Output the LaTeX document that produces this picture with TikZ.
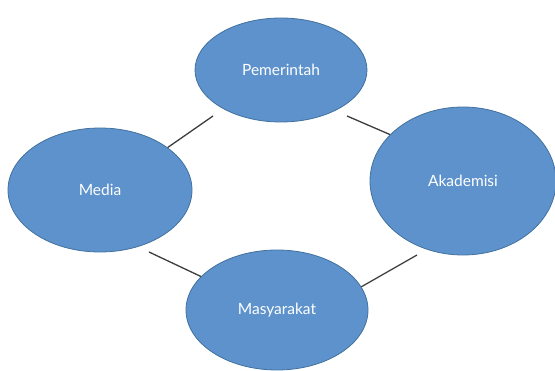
\documentclass[tikz,border=0pt]{standalone}
\usepackage{fontspec}
\setmainfont{Lato}
\usetikzlibrary{shapes.geometric}
\definecolor{efill}{RGB}{93,146,204}
\definecolor{edraw}{RGB}{66,113,158}
\definecolor{lcol}{RGB}{60,60,60}
\begin{document}
\begin{tikzpicture}[x=1pt,y=-1pt,
  blob/.style={ellipse,fill=efill,draw=edraw,line width=0.8pt,inner sep=0pt,text=white,font=\fontsize{15.5}{18}\selectfont},
  link/.style={draw=lcol,line width=1.3pt}]
\useasboundingbox (0,0) rectangle (555,371);
\coordinate (a1) at (213,116); \coordinate (a2) at (167,148);
\coordinate (b1) at (347,116); \coordinate (b2) at (391,135);
\coordinate (c1) at (149,252); \coordinate (c2) at (202,277);
\coordinate (d1) at (361,287); \coordinate (d2) at (417,255);
\draw[link] (a1) -- (a2);
\draw[link] (b1) -- (b2);
\draw[link] (c1) -- (c2);
\draw[link] (d1) -- (d2);
\node[blob,minimum width=172,minimum height=104] (pem) at (281,70) {Pemerintah};
\node[blob,minimum width=184,minimum height=124] (med) at (100,190) {Media};
\node[blob,minimum width=186,minimum height=148] (aka) at (463,181) {Akademisi};
\node[blob,minimum width=182,minimum height=120] (mas) at (277,310) {Masyarakat};
\end{tikzpicture}
\end{document}
